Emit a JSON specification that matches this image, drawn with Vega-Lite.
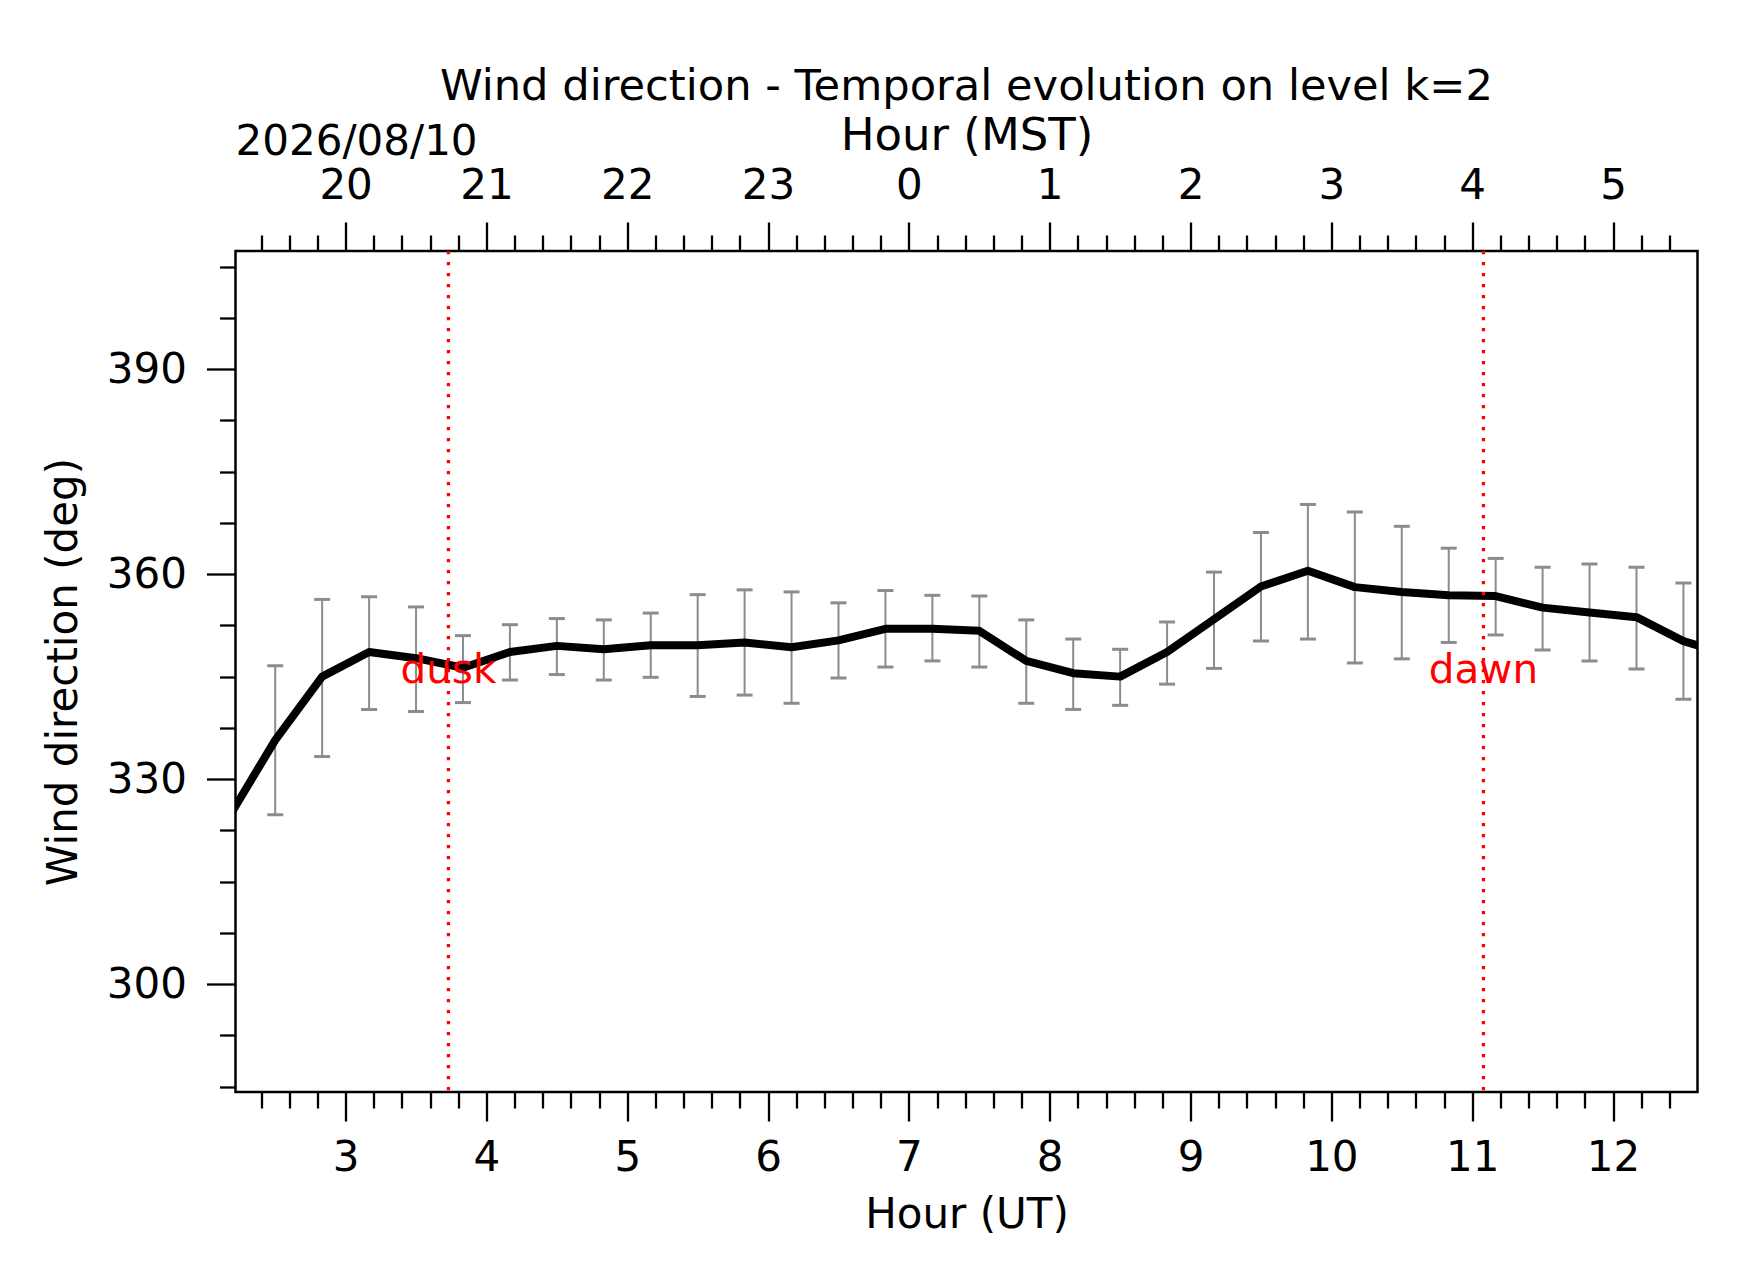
{
  "$schema": "https://vega.github.io/schema/vega-lite/v6.json",
  "width": 1462,
  "height": 841,
  "autosize": {"type": "none"},
  "padding": {"left": 235.5, "top": 251, "right": 44, "bottom": 190},
  "background": "white",
  "title": {
    "text": "Wind direction - Temporal evolution on level k=2",
    "frame": "group",
    "anchor": "middle",
    "baseline": "bottom",
    "offset": -39.5,
    "fontSize": 43.2,
    "fontWeight": "normal",
    "color": "black"
  },
  "datasets": {
    "wind": [
      {"hour": 2.1667, "mean": 324.3, "lo": null, "hi": null},
      {"hour": 2.5, "mean": 335.7, "lo": 324.8, "hi": 346.6},
      {"hour": 2.8333, "mean": 345.0, "lo": 333.3, "hi": 356.3},
      {"hour": 3.1667, "mean": 348.6, "lo": 340.2, "hi": 356.7},
      {"hour": 3.5, "mean": 347.7, "lo": 339.9, "hi": 355.2},
      {"hour": 3.8333, "mean": 346.3, "lo": 341.2, "hi": 351.0},
      {"hour": 4.1667, "mean": 348.6, "lo": 344.5, "hi": 352.6},
      {"hour": 4.5, "mean": 349.5, "lo": 345.3, "hi": 353.5},
      {"hour": 4.8333, "mean": 349.0, "lo": 344.5, "hi": 353.3},
      {"hour": 5.1667, "mean": 349.6, "lo": 344.9, "hi": 354.3},
      {"hour": 5.5, "mean": 349.6, "lo": 342.1, "hi": 357.0},
      {"hour": 5.8333, "mean": 350.0, "lo": 342.3, "hi": 357.7},
      {"hour": 6.1667, "mean": 349.3, "lo": 341.1, "hi": 357.4},
      {"hour": 6.5, "mean": 350.3, "lo": 344.8, "hi": 355.8},
      {"hour": 6.8333, "mean": 352.0, "lo": 346.4, "hi": 357.6},
      {"hour": 7.1667, "mean": 352.0, "lo": 347.3, "hi": 356.9},
      {"hour": 7.5, "mean": 351.7, "lo": 346.4, "hi": 356.8},
      {"hour": 7.8333, "mean": 347.3, "lo": 341.1, "hi": 353.3},
      {"hour": 8.1667, "mean": 345.5, "lo": 340.2, "hi": 350.5},
      {"hour": 8.5, "mean": 345.0, "lo": 340.8, "hi": 349.0},
      {"hour": 8.8333, "mean": 348.6, "lo": 343.9, "hi": 353.0},
      {"hour": 9.1667, "mean": 353.4, "lo": 346.2, "hi": 360.3},
      {"hour": 9.5, "mean": 358.2, "lo": 350.2, "hi": 366.1},
      {"hour": 9.8333, "mean": 360.5, "lo": 350.5, "hi": 370.2},
      {"hour": 10.1667, "mean": 358.1, "lo": 347.0, "hi": 369.1},
      {"hour": 10.5, "mean": 357.4, "lo": 347.6, "hi": 367.0},
      {"hour": 10.8333, "mean": 356.9, "lo": 350.0, "hi": 363.8},
      {"hour": 11.1667, "mean": 356.8, "lo": 351.1, "hi": 362.3},
      {"hour": 11.5, "mean": 355.1, "lo": 348.9, "hi": 361.0},
      {"hour": 11.8333, "mean": 354.4, "lo": 347.3, "hi": 361.5},
      {"hour": 12.1667, "mean": 353.7, "lo": 346.1, "hi": 361.0},
      {"hour": 12.5, "mean": 350.2, "lo": 341.7, "hi": 358.7},
      {"hour": 12.8333, "mean": 348.1, "lo": null, "hi": null}
    ],
    "sun": [
      {"event": "dusk", "hour": 3.73},
      {"event": "dawn", "hour": 11.08}
    ]
  },
  "layer": [
    {
      "data": {"name": "wind"},
      "mark": {"type": "rule", "color": "#898c93", "strokeWidth": 2, "clip": true},
      "encoding": {
        "x": {
          "field": "hour",
          "type": "quantitative",
          "scale": {"domain": [2.218, 12.6], "nice": false, "zero": false},
          "axis": {
            "orient": "bottom",
            "values": [3, 4, 5, 6, 7, 8, 9, 10, 11, 12],
            "format": "d",
            "tickSize": 29,
            "labelPadding": 16.5,
            "title": "Hour (UT)",
            "titlePadding": 16
          }
        },
        "y": {
          "field": "lo",
          "type": "quantitative",
          "scale": {"domain": [284.2, 407.3], "nice": false, "zero": false},
          "axis": {
            "orient": "left",
            "values": [300, 330, 360, 390],
            "format": "d",
            "tickSize": 29,
            "labelPadding": 20,
            "title": "Wind direction (deg)",
            "titlePadding": 21
          }
        },
        "y2": {"field": "hi"}
      }
    },
    {
      "data": {"name": "wind"},
      "transform": [{"fold": ["lo", "hi"], "as": ["end", "val"]}],
      "mark": {"type": "tick", "orient": "horizontal", "size": 16, "thickness": 3, "color": "#898c93", "opacity": 1, "clip": true},
      "encoding": {
        "x": {
          "field": "hour",
          "type": "quantitative",
          "axis": {
            "orient": "bottom",
            "values": [2.4, 2.6, 2.8, 3.2, 3.4, 3.6, 3.8, 4.2, 4.4, 4.6, 4.8, 5.2, 5.4, 5.6, 5.8, 6.2, 6.4, 6.6, 6.8, 7.2, 7.4, 7.6, 7.8, 8.2, 8.4, 8.6, 8.8, 9.2, 9.4, 9.6, 9.8, 10.2, 10.4, 10.6, 10.8, 11.2, 11.4, 11.6, 11.8, 12.2, 12.4],
            "tickSize": 16,
            "labels": false,
            "title": null
          }
        },
        "y": {
          "field": "val",
          "type": "quantitative",
          "axis": {
            "orient": "left",
            "values": [285, 292.5, 307.5, 315, 322.5, 337.5, 345, 352.5, 367.5, 375, 382.5, 397.5, 405],
            "tickSize": 16,
            "labels": false,
            "title": null
          }
        }
      }
    },
    {
      "data": {"name": "wind"},
      "mark": {"type": "line", "color": "black", "strokeWidth": 8, "strokeJoin": "round", "clip": true},
      "encoding": {
        "x": {
          "field": "hour",
          "type": "quantitative",
          "axis": {
            "orient": "top",
            "values": [3, 4, 5, 6, 7, 8, 9, 10, 11, 12],
            "labelExpr": "(datum.value + 17) % 24",
            "tickSize": 29,
            "labelPadding": 15,
            "title": "Hour (MST)",
            "titleFontSize": 45,
            "titlePadding": 6
          }
        },
        "y": {"field": "mean", "type": "quantitative", "axis": null}
      }
    },
    {
      "data": {"name": "sun"},
      "mark": {"type": "rule", "color": "#ff0000", "strokeWidth": 3.3, "strokeDash": [3.3, 7.7], "clip": true},
      "encoding": {
        "x": {
          "field": "hour",
          "type": "quantitative",
          "axis": {
            "orient": "top",
            "values": [2.4, 2.6, 2.8, 3.2, 3.4, 3.6, 3.8, 4.2, 4.4, 4.6, 4.8, 5.2, 5.4, 5.6, 5.8, 6.2, 6.4, 6.6, 6.8, 7.2, 7.4, 7.6, 7.8, 8.2, 8.4, 8.6, 8.8, 9.2, 9.4, 9.6, 9.8, 10.2, 10.4, 10.6, 10.8, 11.2, 11.4, 11.6, 11.8, 12.2, 12.4],
            "tickSize": 16,
            "labels": false,
            "title": null
          }
        }
      }
    },
    {
      "data": {"name": "sun"},
      "mark": {"type": "text", "color": "#ff0000", "fontSize": 40.5, "align": "center", "baseline": "alphabetic"},
      "encoding": {
        "x": {"field": "hour", "type": "quantitative", "axis": null},
        "y": {"datum": 344, "type": "quantitative", "axis": null},
        "text": {"field": "event", "type": "nominal"}
      }
    },
    {
      "data": {"values": [{"date": "2026/08/10"}]},
      "mark": {"type": "text", "color": "black", "fontSize": 42, "align": "left", "baseline": "alphabetic", "dy": -96},
      "encoding": {
        "x": {"datum": 2.218, "type": "quantitative", "axis": null},
        "y": {"datum": 407.3, "type": "quantitative", "axis": null},
        "text": {"field": "date", "type": "nominal"}
      }
    }
  ],
  "resolve": {"axis": {"x": "independent", "y": "independent"}},
  "config": {
    "font": "DejaVu Sans",
    "view": {"stroke": "black", "strokeWidth": 2.5},
    "axis": {
      "domain": false,
      "grid": false,
      "tickColor": "black",
      "tickWidth": 2.3,
      "labelColor": "black",
      "labelFont": "DejaVu Sans",
      "labelFontSize": 42,
      "labelFlush": false,
      "labelOverlap": false,
      "labelBound": false,
      "titleColor": "black",
      "titleFont": "DejaVu Sans",
      "titleFontSize": 42,
      "titleFontWeight": "normal"
    },
    "title": {"font": "DejaVu Sans"}
  }
}
